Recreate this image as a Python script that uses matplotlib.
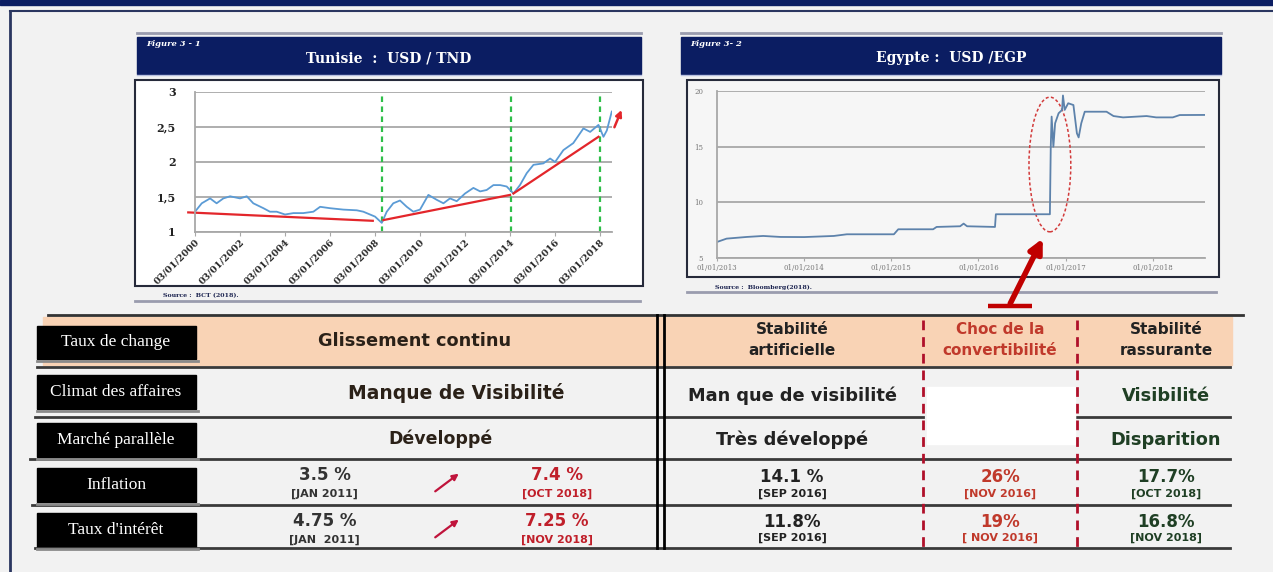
import numpy as np
import matplotlib.pyplot as plt
from matplotlib.patches import Rectangle, Ellipse

W, H = 1273, 572

# ---- Tunisie : USD / TND ----
tn_years = [2000.0, 2000.3, 2000.67, 2000.96, 2001.26, 2001.56, 2002.0, 2002.3, 2002.59,
            2003.04, 2003.33, 2003.63, 2004.0, 2004.37, 2004.81, 2005.26, 2005.56, 2006.0,
            2006.59, 2007.19, 2007.48, 2008.0, 2008.3, 2008.52, 2008.81, 2009.11, 2009.41,
            2009.7, 2010.0, 2010.37, 2010.74, 2011.04, 2011.33, 2011.63, 2012.0, 2012.37,
            2012.67, 2012.96, 2013.26, 2013.56, 2013.85, 2014.15, 2014.44, 2014.74, 2015.04,
            2015.48, 2015.78, 2016.0, 2016.37, 2016.81, 2017.26, 2017.56, 2017.93, 2018.15,
            2018.3, 2018.52]
tn_rate = [1.29, 1.41, 1.48, 1.41, 1.48, 1.51, 1.48, 1.51, 1.41,
           1.34, 1.29, 1.29, 1.25, 1.27, 1.27, 1.29, 1.36, 1.34,
           1.32, 1.31, 1.29, 1.22, 1.13, 1.29, 1.41, 1.45, 1.36,
           1.29, 1.32, 1.53, 1.46, 1.41, 1.48, 1.44, 1.55, 1.63,
           1.58, 1.60, 1.67, 1.67, 1.65, 1.55, 1.67, 1.84, 1.96,
           1.98, 2.05, 2.00, 2.17, 2.27, 2.48, 2.43, 2.53, 2.36,
           2.45, 2.72]
tn_trend_x0 = [1999.7, 2008.37, 2014.15]
tn_trend_y0 = [1.28, 1.17, 1.55]
tn_trend_x1 = [2007.9, 2014.0, 2017.93]
tn_trend_y1 = [1.16, 1.53, 2.36]
tn_arrow = [(2018.59, 2.46), (2019.0, 2.78)]
tn_breaks = [2008.3, 2014.04, 2018.0]
tn_xticks = list(range(2000, 2019, 2))
tn_xlabels = ['03/01/%d' % y for y in tn_xticks]
tn_yticks = [1, 1.5, 2, 2.5, 3]
tn_ylabels = ['1', '1,5', '2', '2,5', '3']

# ---- Egypte : USD / EGP ----
eg_years = [2013.0, 2013.11, 2013.34, 2013.53, 2013.73, 2014.0, 2014.34, 2014.49, 2015.03,
            2015.08, 2015.48, 2015.52, 2015.79, 2015.83, 2015.87, 2016.19, 2016.2, 2016.82,
            2016.83, 2016.84, 2016.86, 2016.88, 2016.92, 2016.96, 2016.97, 2016.99, 2017.03,
            2017.09, 2017.13, 2017.15, 2017.18, 2017.22, 2017.47, 2017.55, 2017.66, 2017.93,
            2018.04, 2018.23, 2018.31, 2018.6]
eg_rate = [6.44, 6.74, 6.89, 6.98, 6.89, 6.88, 6.98, 7.13, 7.13,
           7.58, 7.58, 7.79, 7.85, 8.09, 7.85, 7.79, 8.93, 8.93,
           15.0, 17.7, 15.0, 17.1, 18.0, 18.3, 19.6, 18.3, 18.9,
           18.74, 16.2, 15.83, 17.1, 18.14, 18.14, 17.75, 17.63, 17.75,
           17.63, 17.63, 17.84, 17.85]
eg_xticks = list(range(2013, 2019))
eg_xlabels = ['01/01/%d' % y for y in eg_xticks]
eg_yticks = [5, 10, 15, 20]
eg_shock = (2016.82, 13.4)

# ---- table ----
row_labels = ['Taux de change', 'Climat des affaires', 'Marché parallèle', 'Inflation', "Taux d'intérêt"]
tn_rows = ['Glissement continu', 'Manque de Visibilité', 'Développé']
tn_start = [('3.5 %', '[JAN 2011]'), ('4.75 %', '[JAN  2011]')]
tn_end = [('7.4 %', '[OCT 2018]'), ('7.25 %', '[NOV 2018]')]
eg_head = ['Stabilité\nartificielle', 'Choc de la\nconvertibilité', 'Stabilité\nrassurante']
eg_rows = [['Man que de visibilité', '', 'Visibilité'],
           ['Très développé', '', 'Disparition']]
eg_vals = [[('14.1 %', '[SEP 2016]'), ('26%', '[NOV 2016]'), ('17.7%', '[OCT 2018]')],
           [('11.8%', '[SEP 2016]'), ('19%', '[ NOV 2016]'), ('16.8%', '[NOV 2018]')]]

NAVY = '#0b1d62'
RED = '#c01f2a'
DRED = '#b0102a'
GREEN = '#1f3f24'
SANS = 'DejaVu Sans'


def rect(x0, y0, x1, y1):
    return [x0 / W, 1 - y1 / H, (x1 - x0) / W, (y1 - y0) / H]


fig = plt.figure(figsize=(W / 100, H / 100), dpi=100, facecolor='#f2f2f2')
bg = fig.add_axes([0, 0, 1, 1])
bg.set_xlim(0, W)
bg.set_ylim(H, 0)
bg.axis('off')

# page frame
bg.add_patch(Rectangle((0, 0), W, 5, color=NAVY))
bg.plot([10, W], [11, 11], color='#2a3660', lw=1.5)
bg.plot([10, 10], [11, H], color='#2a3660', lw=2)

# chart frames and title bars
for (x0, x1, bx0, bx1, by1, src, fig_no, title, face) in [
        (137, 641, 135, 643, 286, 'Source :  BCT (2018).', 'Figure 3 - 1', 'Tunisie  :  USD / TND', 'white'),
        (681, 1221, 687, 1219, 277, 'Source :  Bloomberg(2018).', 'Figure 3- 2', 'Egypte :  USD /EGP', '#f6f6f6')]:
    bg.plot([x0, x1], [33, 33], color='#9a9cae', lw=2)
    bg.add_patch(Rectangle((x0, 37), x1 - x0, 37, color=NAVY))
    bg.plot([x0, x1], [75, 75], color='#b8c0e0', lw=1)
    bg.text(x0 + 9, 44, fig_no, color='white', fontsize=6, family='DejaVu Serif',
            weight='bold', style='italic', va='center')
    bg.text((x0 + x1) / 2, 58, title, color='white', fontsize=10, family='DejaVu Serif',
            weight='bold', ha='center', va='center')
    bg.add_patch(Rectangle((bx0, 80), bx1 - bx0, by1 - 80, facecolor=face,
                           edgecolor='#262a3a', lw=1.5))
    bg.text(bx0 + 28, by1 + 10, src, color='#1c2450', fontsize=4.5, family='DejaVu Serif',
            weight='bold', va='center')
    bg.plot([bx0, bx1 - 3], [by1 + 15, by1 + 15], color='#9a9cae', lw=2)

# ---- table ----
bg.add_patch(Rectangle((43, 317), 1232 - 43, 48, color='#f9d3b5'))
bg.plot([48, 1243], [315, 315], color='#333333', lw=2)
for y, x0 in [(367, 37), (459, 30), (505, 32), (548, 35)]:
    bg.plot([x0, 1230], [y, y], color='#3a3a3a', lw=2)
bg.plot([35, 923], [417, 417], color='#3a3a3a', lw=2)
bg.plot([1077, 1230], [417, 417], color='#3a3a3a', lw=2)
for x in (657, 664):
    bg.plot([x, x], [315, 548], color='black', lw=2)
bg.add_patch(Rectangle((927, 387), 148, 57, color='white', zorder=3))
for x in (923, 1077):
    bg.plot([x, x], [320, 548], color=DRED, lw=2, ls=(0, (3.5, 2.5)), zorder=4)

box_y = [(326, 359), (375, 409), (423, 457), (468, 502), (513, 547)]
for lab, (y0, y1) in zip(row_labels, box_y):
    bg.plot([37, 198], [y1 + 2, y1 + 2], color='#8a8a8a', lw=2)
    bg.add_patch(Rectangle((37, y0), 159, y1 - y0, color='black'))
    bg.text(116, (y0 + y1) / 2, lab, color='white', fontsize=12.5, family='Liberation Serif',
            ha='center', va='center')

tn_x = [415, 456, 440]
tn_y = [341, 393, 439]
tn_fs = [12.8, 13.5, 12.5]
for txt, x, y, fs in zip(tn_rows, tn_x, tn_y, tn_fs):
    bg.text(x, y, txt, color='#2b2118', fontsize=fs, family=SANS, weight='bold',
            ha='center', va='center')

row_val_y = [(475, 494), (521, 540)]
for (vy, dy), (v0, d0), (v1, d1) in zip(row_val_y, tn_start, tn_end):
    bg.text(325, vy, v0, color='#333333', fontsize=12, family=SANS, weight='bold',
            ha='center', va='center')
    bg.text(324, dy, d0, color='#333333', fontsize=8, family=SANS, weight='bold',
            ha='center', va='center')
    bg.text(557, vy, v1, color=RED, fontsize=12, family=SANS, weight='bold',
            ha='center', va='center')
    bg.text(557, dy, d1, color=RED, fontsize=8, family=SANS, weight='bold',
            ha='center', va='center')
    bg.annotate('', xy=(461, vy - 3), xytext=(433, vy + 18),
                arrowprops=dict(arrowstyle='-|>', color='#c0143c', lw=1.6, mutation_scale=9))

eg_x = [792, 1000, 1166]
eg_col = ['#222222', '#c0392b', GREEN]
for txt, x, c in zip(eg_head, eg_x, eg_col):
    bg.text(x, 340, txt, color=c if c != GREEN else '#222222', fontsize=11, family=SANS,
            weight='bold', ha='center', va='center', linespacing=1.45, zorder=5)
for row, y in zip(eg_rows, [396, 440]):
    for txt, x, c in zip(row, eg_x, eg_col):
        bg.text(x, y, txt, color=c, fontsize=12.8, family=SANS, weight='bold',
                ha='center', va='center', zorder=5)
for row, (vy, dy) in zip(eg_vals, [(477, 494), (522, 538)]):
    for (v, d), x, c in zip(row, eg_x, eg_col):
        bg.text(x, vy, v, color=c, fontsize=12, family=SANS, weight='bold',
                ha='center', va='center', zorder=5)
        bg.text(x, dy, d, color=c, fontsize=8, family=SANS, weight='bold',
                ha='center', va='center', zorder=5)

# ---- Tunisie chart ----
ax1 = fig.add_axes(rect(195, 92, 612, 232))
ax1.set_facecolor('none')
ax1.set_xlim(2000, 2018.53)
ax1.set_ylim(1, 3)
ax1.set_yticks(tn_yticks, tn_ylabels)
ax1.set_xticks(tn_xticks, tn_xlabels)
ax1.grid(axis='y', color='#a8a8a8', lw=1.3)
ax1.set_axisbelow(True)
for s in ('top', 'right'):
    ax1.spines[s].set_visible(False)
ax1.spines['left'].set_color('#a8a8a8')
ax1.spines['bottom'].set_color('#a8a8a8')
ax1.spines['left'].set_linewidth(1.3)
ax1.spines['bottom'].set_linewidth(1.3)
ax1.tick_params(axis='y', length=0, pad=14, labelsize=8, labelcolor='#222222')
ax1.tick_params(axis='x', length=3, color='#a8a8a8', pad=1, labelsize=6.8, labelcolor='#2a2a2a')
for t in ax1.get_yticklabels():
    t.set_family('DejaVu Serif')
    t.set_weight('bold')
for t in ax1.get_xticklabels():
    t.set_rotation(45)
    t.set_ha('right')
    t.set_rotation_mode('anchor')
    t.set_family('DejaVu Serif')
    t.set_weight('bold')
for xb in tn_breaks:
    ax1.plot([xb, xb], [1, 2.95], color='#2fbf4a', lw=1.6, ls=(0, (2.5, 2)))
ax1.plot(tn_years, tn_rate, color='#5b9bd5', lw=1.3)
for x0, y0, x1, y1 in zip(tn_trend_x0, tn_trend_y0, tn_trend_x1, tn_trend_y1):
    ax1.plot([x0, x1], [y0, y1], color='#e3262b', lw=1.6, clip_on=False)
ax1.annotate('', xy=tn_arrow[1], xytext=tn_arrow[0], annotation_clip=False,
             arrowprops=dict(arrowstyle='-|>', color='#e3262b', lw=1.8, mutation_scale=9))

# ---- Egypte chart ----
ax2 = fig.add_axes(rect(717, 91, 1205, 258))
ax2.set_facecolor('none')
ax2.set_xlim(2013, 2018.6)
ax2.set_ylim(5, 20)
ax2.set_yticks(eg_yticks)
ax2.set_xticks(eg_xticks, eg_xlabels)
ax2.grid(axis='y', color='#a8a8a8', lw=1.3)
ax2.set_axisbelow(True)
for s in ('top', 'right'):
    ax2.spines[s].set_visible(False)
for s in ('left', 'bottom'):
    ax2.spines[s].set_color('#a8a8a8')
    ax2.spines[s].set_linewidth(1.3)
ax2.tick_params(axis='y', length=0, pad=10, labelsize=5, labelcolor='#777777')
ax2.tick_params(axis='x', length=2.5, color='#a8a8a8', pad=2, labelsize=5, labelcolor='#777777')
for t in ax2.get_xticklabels() + ax2.get_yticklabels():
    t.set_family('DejaVu Serif')
ax2.plot(eg_years, eg_rate, color='#5d82ab', lw=1.3)
ax2.add_patch(Ellipse(eg_shock, 0.48, 12.1, fill=False, edgecolor='#d23a3a',
                      lw=1.1, ls=(0, (2, 1.5))))

# overlay: arrow from the table to the shock
top = fig.add_axes([0, 0, 1, 1])
top.set_xlim(0, W)
top.set_ylim(H, 0)
top.axis('off')
top.plot([988, 1032], [306, 306], color='#c00000', lw=3.2, solid_capstyle='butt')
top.annotate('', xy=(1044, 236), xytext=(1009, 306),
             arrowprops=dict(arrowstyle='-|>', color='#c00000', lw=4, mutation_scale=20))

fig.savefig('out.png', dpi=100, facecolor=fig.get_facecolor())
